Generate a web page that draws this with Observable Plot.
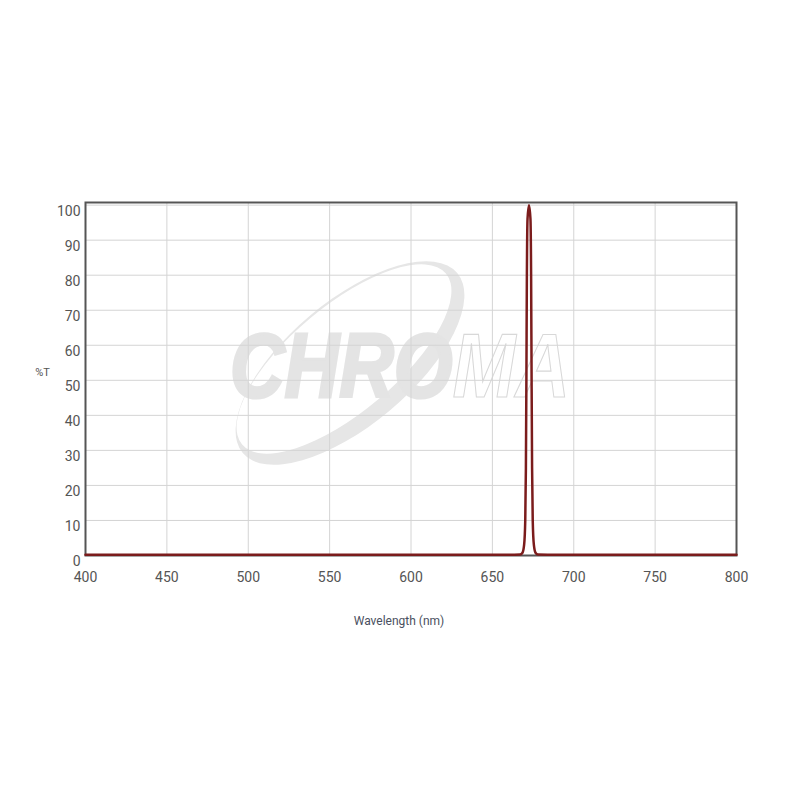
<!DOCTYPE html>
<html>
<head>
<meta charset="utf-8">
<script src="https://cdn.jsdelivr.net/npm/d3@7"></script>
<script src="https://cdn.jsdelivr.net/npm/@observablehq/plot@0.6"></script>
<style>
  html, body { margin: 0; padding: 0; background: #fff; }
  #chart { width: 800px; height: 800px; }
</style>
</head>
<body>
<div id="chart"></div>
<script>
// Transmission spectrum (wavelength in nm, %T)
const wavelength = [400, 660, 667, 668.5, 669.5, 670.2, 670.6, 670.9, 671.2, 671.6, 672.5, 673.4, 673.8, 674.1, 674.4, 674.8, 675.5, 676.5, 678, 690, 800];
const transmission = [0.2, 0.2, 0.3, 0.8, 3, 10, 25, 50, 80, 96, 100, 96, 80, 50, 25, 10, 3, 0.8, 0.3, 0.2, 0.2];
const xTicks = [400, 450, 500, 550, 600, 650, 700, 750, 800];
const yTicks = [0, 10, 20, 30, 40, 50, 60, 70, 80, 90, 100];
const xLabel = "Wavelength (nm)";
const yLabel = "%T";
const watermarkFilled = "CHRO";
const watermarkOutline = "MA";

const data = wavelength.map((w, i) => ({w, t: transmission[i]}));

// decorative watermark (logo), drawn beneath the grid
function watermark(...args) {
  const ns = "http://www.w3.org/2000/svg";
  const g = document.createElementNS(ns, "g");
  const cx = 350, cy = 363;
  const outer = document.createElementNS(ns, "ellipse");
  outer.setAttribute("cx", cx); outer.setAttribute("cy", cy);
  outer.setAttribute("rx", 140); outer.setAttribute("ry", 62);
  outer.setAttribute("transform", `rotate(-40 ${cx} ${cy})`);
  outer.setAttribute("fill", "#e6e6e6");
  g.appendChild(outer);
  const inner = document.createElementNS(ns, "ellipse");
  inner.setAttribute("cx", cx - 6); inner.setAttribute("cy", cy - 4);
  inner.setAttribute("rx", 133); inner.setAttribute("ry", 53);
  inner.setAttribute("transform", `rotate(-40 ${cx - 6} ${cy - 4})`);
  inner.setAttribute("fill", "#fff");
  g.appendChild(inner);
  const text = document.createElementNS(ns, "text");
  text.setAttribute("x", 230); text.setAttribute("y", 397);
  text.setAttribute("text-anchor", "start");
  text.setAttribute("font-family", "Liberation Sans, Arial, sans-serif");
  text.setAttribute("font-size", 90);
  text.setAttribute("font-style", "italic");
  text.setAttribute("font-weight", "bold");
  text.setAttribute("textLength", 340);
  text.setAttribute("lengthAdjust", "spacingAndGlyphs");
  const t1 = document.createElementNS(ns, "tspan");
  t1.setAttribute("fill", "#e4e4e4");
  t1.setAttribute("stroke", "#e4e4e4");
  t1.setAttribute("stroke-width", 3);
  t1.textContent = watermarkFilled;
  const t2 = document.createElementNS(ns, "tspan");
  t2.setAttribute("fill", "none");
  t2.setAttribute("stroke", "#d8d8d8");
  t2.setAttribute("stroke-width", 1.2);
  t2.textContent = watermarkOutline;
  text.appendChild(t1); text.appendChild(t2);
  g.appendChild(text);
  return g;
}

const plot = Plot.plot({
  width: 800,
  height: 800,
  marginTop: 202,
  marginBottom: 245,
  marginLeft: 85,
  marginRight: 64,
  style: {fontFamily: "Roboto, sans-serif", fontSize: "14px", color: "#555", background: "#fff"},
  x: {domain: [400, 800], label: null},
  y: {domain: [0, 100.75], label: null},
  marks: [
    watermark,
    Plot.gridX(xTicks, {stroke: "#d4d4d4", strokeOpacity: 1}),
    Plot.gridY(yTicks, {stroke: "#d4d4d4", strokeOpacity: 1}),
    Plot.axisY(yTicks, {tickSize: 0, tickPadding: 5, dy: 6, fontSize: 14, fill: "#555", label: null}),
    Plot.axisX(xTicks, {tickSize: 0, tickPadding: 17, fontSize: 14, fill: "#555", label: null}),
    Plot.frame({stroke: "#555", strokeWidth: 2}),
    Plot.line(data, {x: "w", y: "t", stroke: "#7b1c1c", strokeWidth: 2.5, curve: "monotone-x"}),
    Plot.text([yLabel], {text: d => d, frameAnchor: "left", textAnchor: "middle", dx: -43, dy: -7, fontSize: 11, fill: "#555"}),
    Plot.text([xLabel], {text: d => d, frameAnchor: "bottom", dx: -12, dy: 69, fontSize: 12, fill: "#4a5060"})
  ]
});
document.getElementById("chart").appendChild(plot);
</script>
</body>
</html>
